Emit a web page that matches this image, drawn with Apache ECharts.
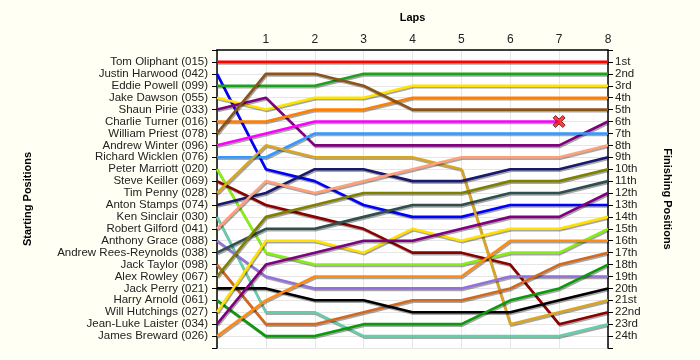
<!DOCTYPE html>
<html><head><meta charset="utf-8">
<script src="https://cdn.jsdelivr.net/npm/echarts@6/dist/echarts.min.js"></script>
<style>html,body{margin:0;padding:0;background:#FFFFF4;}#c{width:700px;height:360px;}</style>
</head><body><div id="c"></div>
<script>
// Drivers in starting order
const drivers = ["Tom Oliphant (015)","Justin Harwood (042)","Eddie Powell (099)","Jake Dawson (055)","Shaun Pirie (033)","Charlie Turner (016)","William Priest (078)","Andrew Winter (096)","Richard Wicklen (076)","Peter Marriott (020)","Steve Keiller (069)","Tim Penny (028)","Anton Stamps (074)","Ken Sinclair (030)","Robert Gilford (041)","Anthony Grace (088)","Andrew Rees-Reynolds (038)","Jack Taylor (098)","Alex Rowley (067)","Jack Perry (021)","Harry Arnold (061)","Will Hutchings (027)","Jean-Luke Laister (034)","James Breward (026)"];
// Position of each driver (starting order) after each lap; null = retired
const lap0 = [1,2,3,4,5,6,7,8,9,10,11,12,13,14,15,16,17,18,19,20,21,22,23,24];
const lap1 = [1,10,3,5,4,6,2,7,9,17,13,8,12,22,11,19,15,23,14,20,24,16,18,21];
const lap2 = [1,11,3,4,8,5,2,6,7,18,14,9,10,22,12,20,15,23,13,21,24,16,17,19];
const lap3 = [1,13,2,4,8,5,3,6,7,18,15,9,10,24,11,20,14,22,12,21,23,17,16,19];
const lap4 = [1,14,2,3,8,4,5,6,7,18,17,9,11,24,10,20,13,21,12,22,23,15,16,19];
const lap5 = [1,14,2,3,8,4,5,6,7,18,17,10,11,24,9,20,13,21,12,22,23,16,15,19];
const lap6 = [1,13,2,3,8,4,5,6,7,17,18,23,10,24,9,19,12,20,11,22,21,15,14,16];
const lap7 = [1,13,2,3,8,4,5,6,7,17,23,22,10,24,9,19,12,18,11,21,20,15,14,16];
const lap8 = [1,13,2,3,6,4,5,null,7,15,22,21,9,23,8,19,11,17,10,20,18,14,12,16];
const lapLabels = ["","1","2","3","4","5","6","7","8"];
const finishLabels = ["1st","2nd","3rd","4th","5th","6th","7th","8th","9th","10th","11th","12th","13th","14th","15th","16th","17th","18th","19th","20th","21st","22nd","23rd","24th"];

const colors = ["#FF0000","#0000FF","#20A020","#FFE400","#800080","#FF8000","#8C5418","#FF00FF","#3399FF","#88EE11","#8B0000","#DAA520","#191970","#66CDAA","#FFA07A","#9370DB","#2F4F4F","#D2691E","#808000","#000000","#0A9A0A","#FFE000","#800080","#FF8A10"];

const laps = [lap0,lap1,lap2,lap3,lap4,lap5,lap6,lap7,lap8];
const series = [];
const retired = [];
drivers.forEach((d,i)=>{
  const data = [];
  let last = null;
  laps.forEach((l,k)=>{ if(l[i]!=null){ data.push([k,l[i]]); last=[k,l[i]]; } });
  if (lap8[i]==null && last) retired.push(last);
  series.push({
    type:'line', name:d, data:data, symbol:'none', silent:true,
    lineStyle:{color:colors[i], width:2.6, shadowColor:'rgba(0,0,0,0.35)', shadowOffsetX:1, shadowOffsetY:1.5, shadowBlur:0},
    z: 3
  });
});
series.push({
  type:'scatter', data:retired, z:5, silent:true,
  symbol:'path://M0,2 L2,0 L5,3 L8,0 L10,2 L7,5 L10,8 L8,10 L5,7 L2,10 L0,8 L3,5 Z',
  symbolSize:12,
  itemStyle:{color:'#FF1010', borderColor:'#5A1010', borderWidth:1}
});

const font = 'Liberation Sans, Arial, sans-serif';
const chart = echarts.init(document.getElementById('c'), null, {renderer:'canvas'});
chart.setOption({
  animation:false,
  backgroundColor:'#FFFFF4',
  grid:{left:217, top:50, width:391, height:298, show:true, backgroundColor:'#FFFFFF', borderWidth:0},
  xAxis:{
    type:'value', min:0, max:8, interval:1, position:'top',
    name:'Laps', nameLocation:'middle', nameGap:27,
    nameTextStyle:{fontFamily:font, fontWeight:'bold', fontSize:11, color:'#000'},
    axisLine:{show:true, onZero:false, lineStyle:{color:'#000', width:1.5}},
    axisTick:{show:false},
    axisLabel:{fontFamily:font, fontSize:12, color:'#222', margin:4, formatter:v=>lapLabels[v]||''},
    splitLine:{show:true, lineStyle:{color:'#E6E6E6', width:1}}
  },
  yAxis:[{
    type:'value', min:0, max:25, interval:1, inverse:true, position:'left',
    name:'Starting Positions', nameLocation:'middle', nameGap:184, nameRotate:90,
    nameTextStyle:{fontFamily:font, fontWeight:'bold', fontSize:11, color:'#000'},
    axisLine:{show:true, onZero:false, lineStyle:{color:'#000', width:1.5}},
    axisTick:{show:true, length:5, lineStyle:{color:'#000'}},
    axisLabel:{fontFamily:font, fontSize:11.5, color:'#222', margin:9, formatter:v=>drivers[v-1]||''},
    splitLine:{show:true, lineStyle:{color:'#E6E6E6', width:1}}
  },{
    type:'value', min:0, max:25, interval:1, inverse:true, position:'right',
    name:'Finishing Positions', nameLocation:'middle', nameGap:54, nameRotate:-90,
    nameTextStyle:{fontFamily:font, fontWeight:'bold', fontSize:11, color:'#000'},
    axisLine:{show:true, onZero:false, lineStyle:{color:'#000', width:1.5}},
    axisTick:{show:true, length:5, lineStyle:{color:'#000'}},
    axisLabel:{fontFamily:font, fontSize:11.5, color:'#222', margin:7, formatter:v=>finishLabels[v-1]||''},
    splitLine:{show:false}
  }],
  series:series
});
</script>
</body></html>
